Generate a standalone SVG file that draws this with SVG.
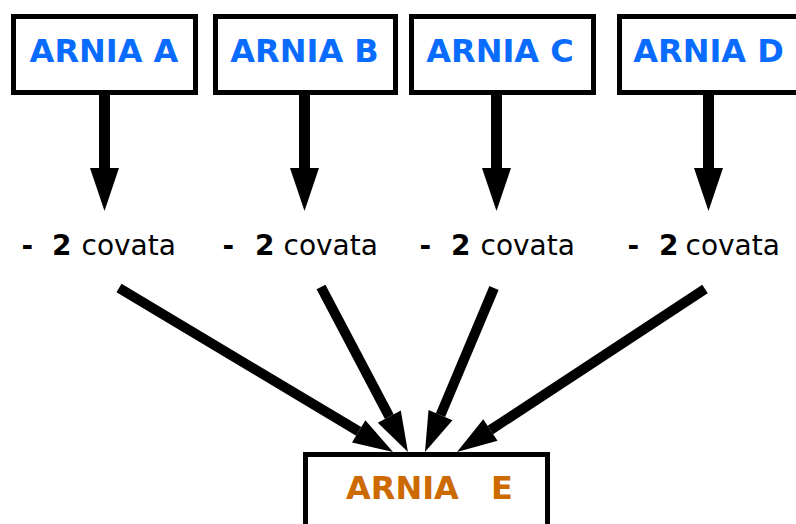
<svg xmlns="http://www.w3.org/2000/svg" width="796" height="524" viewBox="0 0 796 524">
<style>
.box{fill:#fff;stroke:#000;stroke-width:5}
.t{font-family:"DejaVu Sans",sans-serif;font-weight:bold;font-size:32px;fill:#0a6cff;text-anchor:middle}
.te{font-family:"DejaVu Sans",sans-serif;font-weight:bold;font-size:32px;fill:#cc6a00}
.lab{font-family:"DejaVu Sans",sans-serif;font-size:28px;fill:#000}
.b{font-weight:bold}
.v{stroke:#000;stroke-width:11;fill:none}
.d{stroke:#000;stroke-width:10;fill:none}
</style>
<defs>
<marker id="hv" markerUnits="userSpaceOnUse" orient="auto" refX="0" refY="0" markerWidth="50" markerHeight="40" viewBox="0 -20 50 40" overflow="visible">
<path d="M0,-14.5 L43,0 L0,14.5 z" fill="#000"/>
</marker>
<marker id="hd" markerUnits="userSpaceOnUse" orient="auto" refX="0" refY="0" markerWidth="50" markerHeight="40" viewBox="0 -20 50 40" overflow="visible">
<path d="M0,-13 L40,0 L0,13 z" fill="#000"/>
</marker>
</defs>
<rect width="796" height="524" fill="#fff"/>
<g id="connectors">
<line class="v" x1="104.5" y1="95" x2="104.5" y2="168" marker-end="url(#hv)"/>
<line class="v" x1="304.5" y1="95" x2="304.5" y2="168" marker-end="url(#hv)"/>
<line class="v" x1="496.5" y1="95" x2="496.5" y2="168" marker-end="url(#hv)"/>
<line class="v" x1="708.5" y1="95" x2="708.5" y2="168" marker-end="url(#hv)"/>
<line class="d" x1="119" y1="288" x2="358.7" y2="431.4" marker-end="url(#hd)"/>
<line class="d" x1="321" y1="287" x2="389.3" y2="416.6" marker-end="url(#hd)"/>
<line class="d" x1="494" y1="288" x2="440.5" y2="415.1" marker-end="url(#hd)"/>
<line class="d" x1="705" y1="289" x2="490.4" y2="430" marker-end="url(#hd)"/>
</g>
<g id="arniaA"><rect class="box" x="13.5" y="16.5" width="182" height="76"/><text class="t" x="104" y="62">ARNIA A</text></g>
<g id="arniaB"><rect class="box" x="215.5" y="16.5" width="180" height="76"/><text class="t" x="304.5" y="62">ARNIA B</text></g>
<g id="arniaC"><rect class="box" x="411.5" y="16.5" width="182" height="76"/><text class="t" x="500" y="62">ARNIA C</text></g>
<g id="arniaD"><rect class="box" x="619.5" y="16.5" width="182" height="76"/><text class="t" x="708.5" y="62">ARNIA D</text></g>
<g id="arniaE"><rect class="box" x="305.5" y="454.5" width="242" height="80"/><text class="te" y="499"><tspan x="346">ARNIA</tspan><tspan x="491">E</tspan></text></g>
<g id="labelA"><text class="lab" y="255"><tspan class="b" x="21.5">-</tspan><tspan class="b" x="52">2</tspan><tspan x="81.5">covata</tspan></text></g>
<g id="labelB"><text class="lab" y="255"><tspan class="b" x="222.5">-</tspan><tspan class="b" x="255">2</tspan><tspan x="283.5">covata</tspan></text></g>
<g id="labelC"><text class="lab" y="255"><tspan class="b" x="419.5">-</tspan><tspan class="b" x="451">2</tspan><tspan x="480.5">covata</tspan></text></g>
<g id="labelD"><text class="lab" y="255"><tspan class="b" x="627.5">-</tspan><tspan class="b" x="659">2</tspan><tspan x="685.5">covata</tspan></text></g>
</svg>
